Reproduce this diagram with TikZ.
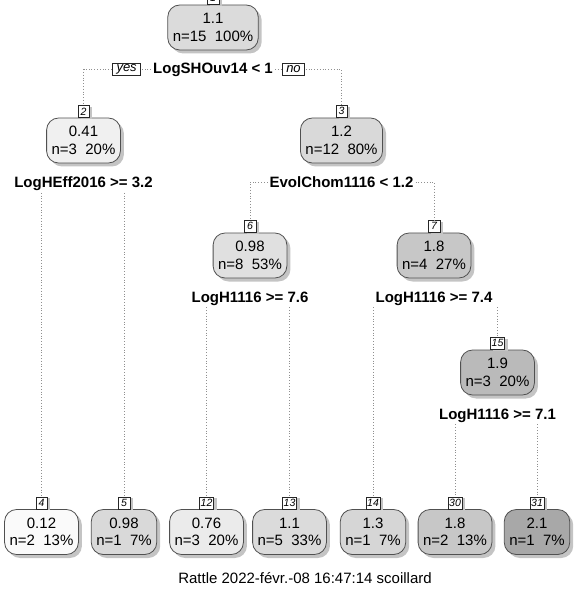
\documentclass[tikz,border=0pt]{standalone}
\usepackage{fontspec}
\setmainfont{Liberation Sans}
\usetikzlibrary{positioning,shadows}
\definecolor{bord}{HTML}{505050}
\definecolor{shd}{HTML}{C4C4C4}
\definecolor{dotc}{HTML}{8F8F8F}
\newcommand\bigfont{\fontsize{15}{17.5}\selectfont}
\newcommand\smallfont{\fontsize{10.5}{11}\selectfont\itshape}
\tikzset{
  box/.style={draw=bord,line width=0.8pt,rounded corners=12pt,align=center,inner xsep=5pt,minimum height=45pt,font=\bigfont,general shadow={fill=shd,shadow xshift=3.5pt,shadow yshift=-3.5pt}},
  numb/.style={draw=black!85,fill=white,line width=0.5pt,inner xsep=1.2pt,inner ysep=0pt,minimum width=11.5pt,minimum height=12pt,font=\smallfont,general shadow={fill=shd,shadow xshift=3pt,shadow yshift=-1.5pt}},
  splt/.style={font=\bigfont\bfseries,inner sep=2pt},
  yn/.style={draw=black!85,fill=white,line width=0.5pt,inner xsep=4pt,inner ysep=1pt,minimum height=12.5pt,font=\fontsize{13}{14}\selectfont\itshape},
  dl/.style={draw=dotc,line width=0.8pt,dotted},
}
\begin{document}
\begin{tikzpicture}[x=1pt,y=1pt,node distance=11pt]
\useasboundingbox (0,0) rectangle (576,-593);
\clip (0,0) rectangle (576,-593);
% split nodes
\node[box,fill=black!14] (n1) at (213,-27.5) {1.1\\n=15\ \ 100\%};
\node[box,fill=black!6] (n2) at (83.5,-140.5) {0.41\\n=3\ \ 20\%};
\node[box,fill=black!15] (n3) at (341.5,-140.5) {1.2\\n=12\ \ 80\%};
\node[box,fill=black!12] (n6) at (250,-255.5) {0.98\\n=8\ \ 53\%};
\node[box,fill=black!22] (n7) at (434,-255.5) {1.8\\n=4\ \ 27\%};
\node[box,fill=black!27] (n15) at (497.5,-372.5) {1.9\\n=3\ \ 20\%};
% leaves
\node[box,fill=black!2] (n4) at (41.5,-532) {0.12\\n=2\ \ 13\%};
\node[box,fill=black!15] (n5) at (124,-532) {0.98\\n=1\ \ 7\%};
\node[box,fill=black!8] (n12) at (206.5,-532) {0.76\\n=3\ \ 20\%};
\node[box,fill=black!14] (n13) at (289.5,-532) {1.1\\n=5\ \ 33\%};
\node[box,fill=black!16] (n14) at (373,-532) {1.3\\n=1\ \ 7\%};
\node[box,fill=black!22] (n30) at (455,-532) {1.8\\n=2\ \ 13\%};
\node[box,fill=black!34] (n31) at (537,-532) {2.1\\n=1\ \ 7\%};
\foreach \i in {1,2,3,6,7,15,4,5,12,13,14,30,31}
  \node[numb,above=0pt of n\i] (l\i) {\i};
\node[splt,below=10pt of n1] (s1) {LogSHOuv14 < 1};
\node[splt,below=of n2] (s2) {LogHEff2016 >= 3.2};
\node[splt,below=of n3] (s3) {EvolChom1116 < 1.2};
\node[splt,below=of n6] (s6) {LogH1116 >= 7.6};
\node[splt,below=of n7] (s7) {LogH1116 >= 7.4};
\node[splt,below=of n15] (s15) {LogH1116 >= 7.1};
\draw[dl] (s1.west) -| (l2.north);
\draw[dl] (s1.east) -| (l3.north);
\node[yn,left=10pt of s1] (yes) {yes};
\node[yn,right=7pt of s1] (no) {no};
\draw[dl] (s3.west) -| (l6.north);
\draw[dl] (s3.east) -| (l7.north);
\foreach \s/\c in {s2/4,s2/5,s6/12,s6/13,s7/14,s7/15,s15/30,s15/31}
  \draw[dl] (\s.south -| l\c) -- (l\c.north);
\node[font=\bigfont] (cap) at (305,-578) {Rattle 2022-févr.-08 16:47:14 scoillard};
\end{tikzpicture}
\end{document}
